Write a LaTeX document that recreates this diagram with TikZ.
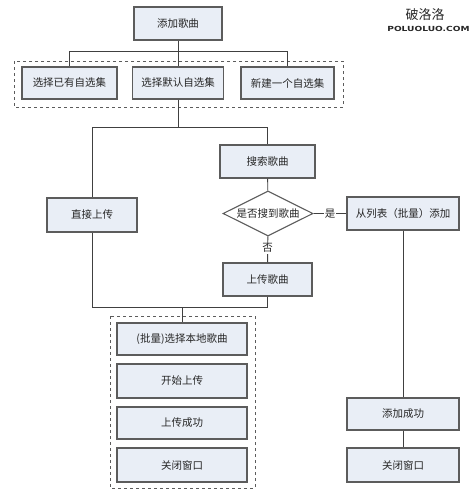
\documentclass[tikz,border=0pt]{standalone}
\usepackage{fontspec}
\newfontfamily\cjk{Noto Sans CJK SC}
\newfontfamily\marksans{DejaVu Sans}
\usetikzlibrary{shapes.geometric}
\definecolor{boxfill}{HTML}{E9EEF6}
\definecolor{boxline}{HTML}{5C5C5C}
\definecolor{linkline}{HTML}{404040}

\begin{document}
\begin{tikzpicture}[
      x=1pt, y=-1pt,
      every node/.style={font=\cjk\fontsize{10.5}{12}\selectfont, text=black!85},
      stepbox/.style={draw=boxline, line width=1.1pt, fill=boxfill, minimum height=33pt, inner sep=0pt},
      choice/.style={draw=boxline, line width=1.1pt, diamond, shape aspect=2, inner sep=0pt, minimum width=90pt, minimum height=45pt},
      group/.style={draw=boxline, dashed, line width=0.9pt},
      link/.style={draw=linkline, line width=0.9pt},
      answer/.style={fill=white, inner sep=1pt}
    ]
      \useasboundingbox (0,0) rectangle (474,491);
      % groups
      \draw[group] (14,61) rectangle (343,107);
      \draw[group] (110,316) rectangle (255,488);
      % steps
      \node[stepbox, minimum width=88pt] (add) at (178,23.5) {添加歌曲};
      \node[stepbox, minimum width=95pt, minimum height=32pt] (pickold) at (69.5,83) {选择已有自选集};
      \node[stepbox, minimum width=91pt, minimum height=32pt] (pickdef) at (178,83) {选择默认自选集};
      \node[stepbox, minimum width=93pt, minimum height=32pt] (picknew) at (287.5,83) {新建一个自选集};
      \node[stepbox, minimum width=95pt] (search) at (267.5,161.5) {搜索歌曲};
      \node[choice] (found) at (268,213.5) {是否搜到歌曲};
      \node[stepbox, minimum width=112pt] (fromlist) at (403,213.5) {从列表（批量）添加};
      \node[stepbox, minimum width=90pt, minimum height=34pt] (direct) at (92,215) {直接上传};
      \node[stepbox, minimum width=89pt] (upload) at (267.5,279.5) {上传歌曲};
      \node[stepbox, minimum width=130pt, minimum height=32pt] (local) at (182,339) {(批量)选择本地歌曲};
      \node[stepbox, minimum width=130pt, minimum height=34pt] (start) at (182,381) {开始上传};
      \node[stepbox, minimum width=130pt, minimum height=32pt] (done) at (182,423) {上传成功};
      \node[stepbox, minimum width=130pt, minimum height=34pt] (close) at (182,465) {关闭窗口};
      \node[stepbox, minimum width=112pt, minimum height=32pt] (addok) at (403,414) {添加成功};
      \node[stepbox, minimum width=112pt, minimum height=34pt] (closeright) at (403,465) {关闭窗口};
      % joints
      \coordinate (top) at (178,51);
      \coordinate (split) at (178,127);
      \coordinate (merge) at (182,307);
      % links
      \path[link] (add) -- (top) (top) -| (pickold.north) (top) -| (picknew.north) (top) -- (pickdef);
      \path[link] (pickdef) -- (split) (split) -| (direct) (split) -| (search);
      \path[link] (search) -- (found);
      \path[link] (found) -- node[answer] {是} (fromlist);
      \path[link] (found) -- node[answer, pos=0.45] {否} (upload);
      \path[link] (upload.south) |- (merge) (direct.south) |- (merge) (merge) -- (local);
      \path[link] (fromlist) -- (addok) (addok) -- (closeright);
      % site mark
      \node (markcn) at (425,15) {\fontsize{13}{13}\selectfont 破洛洛};
      \node[xscale=1.3] (marken) at (428.5,29) {\marksans\bfseries\fontsize{7}{7}\selectfont POLUOLUO.COM};
    \end{tikzpicture}
\end{document}
